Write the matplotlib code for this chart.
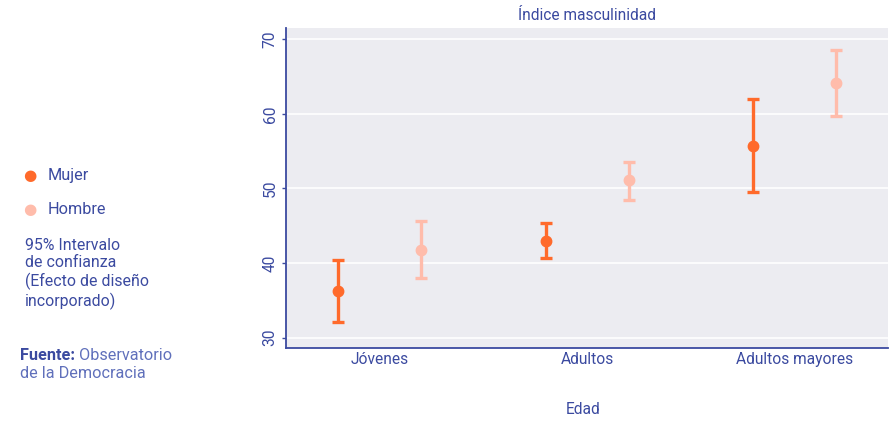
import matplotlib
matplotlib.use("Agg")
import matplotlib.pyplot as plt
import numpy as np

plt.rcParams['font.family'] = ['Roboto', 'DejaVu Sans']

categories = ["Jóvenes", "Adultos", "Adultos mayores"]
mujer_mean = [36.3, 43.0, 55.7]
mujer_low = [32.1, 40.7, 49.5]
mujer_high = [40.4, 45.3, 62.0]
hombre_mean = [41.8, 51.1, 64.1]
hombre_low = [38.0, 48.5, 59.7]
hombre_high = [45.6, 53.5, 68.5]
y_ticks = [30, 40, 50, 60, 70]

NAVY = "#3b4aa0"
LIGHT_NAVY = "#6070bb"
C_MUJER = "#ff6a2b"
C_HOMBRE = "#ffbcab"
BG = "#ececf1"
FS_AX = 11.2
FS_LEG = 11.7

fig = plt.figure(figsize=(8.94, 4.21), dpi=100)
ax = fig.add_axes([286 / 894, 1 - 348 / 421, (888 - 286) / 894, (348 - 28) / 421])
ax.set_facecolor(BG)

x = np.arange(len(categories))
off = 0.2
for xs, m, lo, hi, c in [(x - off, mujer_mean, mujer_low, mujer_high, C_MUJER),
                         (x + off, hombre_mean, hombre_low, hombre_high, C_HOMBRE)]:
    m = np.array(m); lo = np.array(lo); hi = np.array(hi)
    ax.errorbar(xs, m, yerr=[m - lo, hi - m], fmt='o', color=c, ecolor=c,
                elinewidth=2.4, capsize=4.5, capthick=2.4, markersize=7.5, zorder=3)

ax.set_xlim(-0.452, 2.449)
ax.set_ylim(28.6, 71.5)
ax.set_yticks(y_ticks)
ax.set_yticklabels([str(t) for t in y_ticks], rotation=90, va='center')
ax.set_xticks(x)
ax.set_xticklabels(categories)
ax.grid(axis='y', color='white', linewidth=1.2)
ax.set_axisbelow(True)
for s in ['top', 'right']:
    ax.spines[s].set_visible(False)
for s in ['left', 'bottom']:
    ax.spines[s].set_color(NAVY)
    ax.spines[s].set_linewidth(1.3)
ax.tick_params(axis='y', colors=NAVY, labelsize=FS_AX, length=3, width=1, pad=3)
ax.tick_params(axis='x', colors=NAVY, labelsize=FS_AX, length=0, pad=3)

ax.set_title("Índice masculinidad", color=NAVY, fontsize=FS_AX, pad=6)
fig.text(583 / 894, 1 - 410 / 421, "Edad", color=NAVY, fontsize=FS_AX, ha='center', va='center')

# legend panel on the left
fig.text(30 / 894, 1 - 175 / 421, "●", color=C_MUJER, fontsize=11, ha='center', va='center',
         family=['DejaVu Sans'])
fig.text(48 / 894, 1 - 175 / 421, "Mujer", color=NAVY, fontsize=FS_LEG, va='center')
fig.text(30 / 894, 1 - 210 / 421, "●", color=C_HOMBRE, fontsize=11, ha='center', va='center',
         family=['DejaVu Sans'])
fig.text(48 / 894, 1 - 210 / 421, "Hombre", color=NAVY, fontsize=FS_LEG, va='center')
fig.text(25 / 894, 1 - 238 / 421,
         "95% Intervalo\nde confianza\n(Efecto de diseño\nincorporado)",
         color=NAVY, fontsize=11.4, va='top', linespacing=1.2)
src = fig.text(20 / 894, 1 - 355 / 421, "Fuente:", color=NAVY, fontsize=FS_LEG, va='center',
               fontweight='bold')
fig.canvas.draw()
bb = src.get_window_extent()
fig.text((bb.x1 + 4) / 894, 1 - 355 / 421, "Observatorio", color=LIGHT_NAVY, fontsize=FS_LEG,
         va='center')
fig.text(20 / 894, 1 - 373 / 421, "de la Democracia", color=LIGHT_NAVY, fontsize=FS_LEG,
         va='center')

fig.savefig("out.png", dpi=100)
